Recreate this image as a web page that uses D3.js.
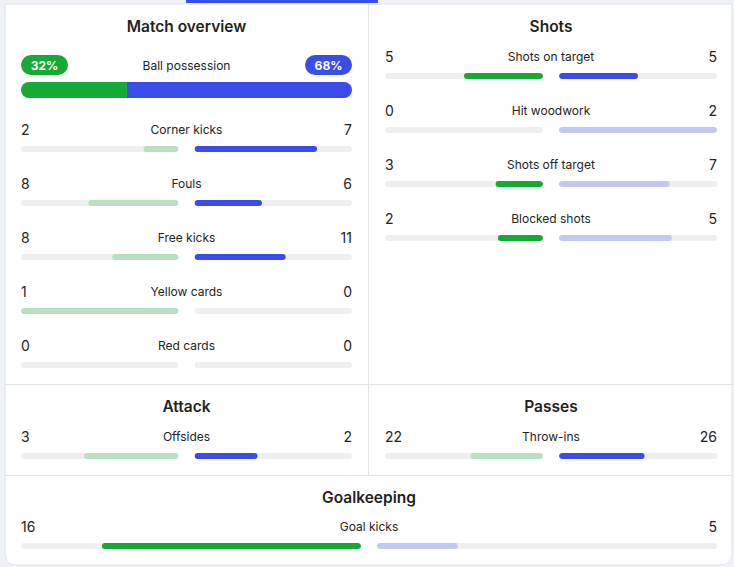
<!DOCTYPE html>
<html><head><meta charset="utf-8">
<script src="https://cdn.jsdelivr.net/npm/d3@7"></script>
<style>body{margin:0;background:#eef1f5;}svg{display:block;font-family:Inter,"Noto Sans",sans-serif;}</style>
</head><body><svg id="c" width="734" height="567"></svg>
<script>
// ---- data ----
const possessionHome = 32;
const possessionAway = 68;

const overviewStats = ["Corner kicks", "Fouls", "Free kicks", "Yellow cards", "Red cards"];
const overviewHome  = [2, 8, 8, 1, 0];
const overviewAway  = [7, 6, 11, 0, 0];
const overviewLead  = ["away", "away", "away", "away", "none"];

const shotsStats = ["Shots on target", "Hit woodwork", "Shots off target", "Blocked shots"];
const shotsHome  = [5, 0, 3, 2];
const shotsAway  = [5, 2, 7, 5];
const shotsLead  = ["both", "home", "home", "home"];

const attackStats = ["Offsides"];
const attackHome  = [3];
const attackAway  = [2];
const attackLead  = ["away"];

const passesStats = ["Throw-ins"];
const passesHome  = [22];
const passesAway  = [26];
const passesLead  = ["away"];

const keepingStats = ["Goal kicks"];
const keepingHome  = [16];
const keepingAway  = [5];
const keepingLead  = ["home"];

const sectionTitles = ["Match overview", "Shots", "Attack", "Passes", "Goalkeeping"];

// ---- style ----
const GREEN = "#16a935", GREEN_L = "#b8e0c3", BLUE = "#3a4de8", BLUE_L = "#c3c8f0", TRACK = "#efefef";
const svg = d3.select("#c");
const defs = svg.append("defs");
let clipId = 0;

// background card
svg.append("rect").attr("x", 0).attr("y", 0).attr("width", 734).attr("height", 567).attr("fill", "#eef1f5");
svg.append("path")
  .attr("d", "M5,4 H732 V553 Q732,565 720,565 H17 Q5,565 5,553 Z")
  .attr("fill", "#fff").attr("stroke", "#e1e4e8").attr("stroke-width", 1);
svg.append("rect").attr("x", 186).attr("y", 0).attr("width", 192).attr("height", 3).attr("fill", BLUE);
// dividers
const lines = [[368.5, 4, 368.5, 475], [5, 384.5, 732, 384.5], [5, 475.5, 732, 475.5]];
svg.selectAll("line.div").data(lines).join("line")
  .attr("x1", d => d[0]).attr("y1", d => d[1]).attr("x2", d => d[2]).attr("y2", d => d[3])
  .attr("stroke", "#e1e4e8").attr("stroke-width", 1);

function title(text, cx, y) {
  svg.append("text").attr("x", cx).attr("y", y).attr("text-anchor", "middle")
    .attr("font-size", 15.5).attr("font-weight", 600).attr("fill", "#1f1f1f").text(text);
}

function clippedGroup(x, y, w, h) {
  const id = "clip" + (clipId++);
  defs.append("clipPath").attr("id", id).append("rect")
    .attr("x", x).attr("y", y).attr("width", w).attr("height", h).attr("rx", h / 2);
  return svg.append("g").attr("clip-path", `url(#${id})`);
}

function statRows(stats, home, away, lead, x0, x1, baseline0, step) {
  const gap = 16, h = 6;
  const mid = (x0 + x1) / 2;
  const trackW = (x1 - x0 - gap) / 2;
  stats.forEach((name, i) => {
    const yb = baseline0 + i * step;
    const yc = yb + 14;
    svg.append("text").attr("x", x0).attr("y", yb).attr("font-size", 14).attr("fill", "#222").text(home[i]);
    svg.append("text").attr("x", x1).attr("y", yb).attr("text-anchor", "end").attr("font-size", 14).attr("fill", "#222").text(away[i]);
    svg.append("text").attr("x", mid).attr("y", yb - 1).attr("text-anchor", "middle").attr("font-size", 12).attr("fill", "#222").text(name);
    const total = home[i] + away[i];
    const scale = d3.scaleLinear().domain([0, total || 1]).range([0, trackW]);
    const lx1 = x0 + trackW, rx0 = x1 - trackW;
    const gl = clippedGroup(x0, yc - h / 2, trackW, h);
    gl.append("rect").attr("x", x0).attr("y", yc - h / 2).attr("width", trackW).attr("height", h).attr("fill", TRACK);
    const homeHi = lead[i] === "home" || lead[i] === "both";
    const awayHi = lead[i] === "away" || lead[i] === "both";
    if (home[i] > 0) gl.append("rect").attr("x", lx1 - scale(home[i])).attr("y", yc - h / 2)
      .attr("width", scale(home[i])).attr("height", h).attr("rx", h / 2).attr("fill", homeHi ? GREEN : GREEN_L);
    const gr = clippedGroup(rx0, yc - h / 2, trackW, h);
    gr.append("rect").attr("x", rx0).attr("y", yc - h / 2).attr("width", trackW).attr("height", h).attr("fill", TRACK);
    if (away[i] > 0) gr.append("rect").attr("x", rx0).attr("y", yc - h / 2)
      .attr("width", scale(away[i])).attr("height", h).attr("rx", h / 2).attr("fill", awayHi ? BLUE : BLUE_L);
  });
}

// Match overview
title(sectionTitles[0], 186.5, 32);
// possession
(function () {
  const x0 = 21, x1 = 352;
  const pills = [{v: possessionHome, x: x0, c: GREEN}, {v: possessionAway, x: x1 - 47, c: BLUE}];
  pills.forEach(p => {
    svg.append("rect").attr("x", p.x).attr("y", 55).attr("width", 47).attr("height", 20).attr("rx", 10).attr("fill", p.c);
    svg.append("text").attr("x", p.x + 23.5).attr("y", 69.5).attr("text-anchor", "middle")
      .attr("font-size", 12).attr("font-weight", 700).attr("fill", "#fff").text(p.v + "%");
  });
  svg.append("text").attr("x", 186.5).attr("y", 70).attr("text-anchor", "middle").attr("font-size", 12).attr("fill", "#222").text("Ball possession");
  const s = d3.scaleLinear().domain([0, possessionHome + possessionAway]).range([x0, x1]);
  const g = clippedGroup(x0, 82, x1 - x0, 16);
  g.append("rect").attr("x", x0).attr("y", 82).attr("width", s(possessionHome) - x0).attr("height", 16).attr("fill", GREEN);
  g.append("rect").attr("x", s(possessionHome)).attr("y", 82).attr("width", x1 - s(possessionHome)).attr("height", 16).attr("fill", BLUE);
})();
statRows(overviewStats, overviewHome, overviewAway, overviewLead, 21, 352, 135, 54);

// Shots
title(sectionTitles[1], 551, 32);
statRows(shotsStats, shotsHome, shotsAway, shotsLead, 385, 717, 62, 54);

// Attack
title(sectionTitles[2], 186.5, 412);
statRows(attackStats, attackHome, attackAway, attackLead, 21, 352, 442, 54);

// Passes
title(sectionTitles[3], 551, 412);
statRows(passesStats, passesHome, passesAway, passesLead, 385, 717, 442, 54);

// Goalkeeping
title(sectionTitles[4], 369, 503);
statRows(keepingStats, keepingHome, keepingAway, keepingLead, 21, 717, 532, 54);
</script></body></html>
